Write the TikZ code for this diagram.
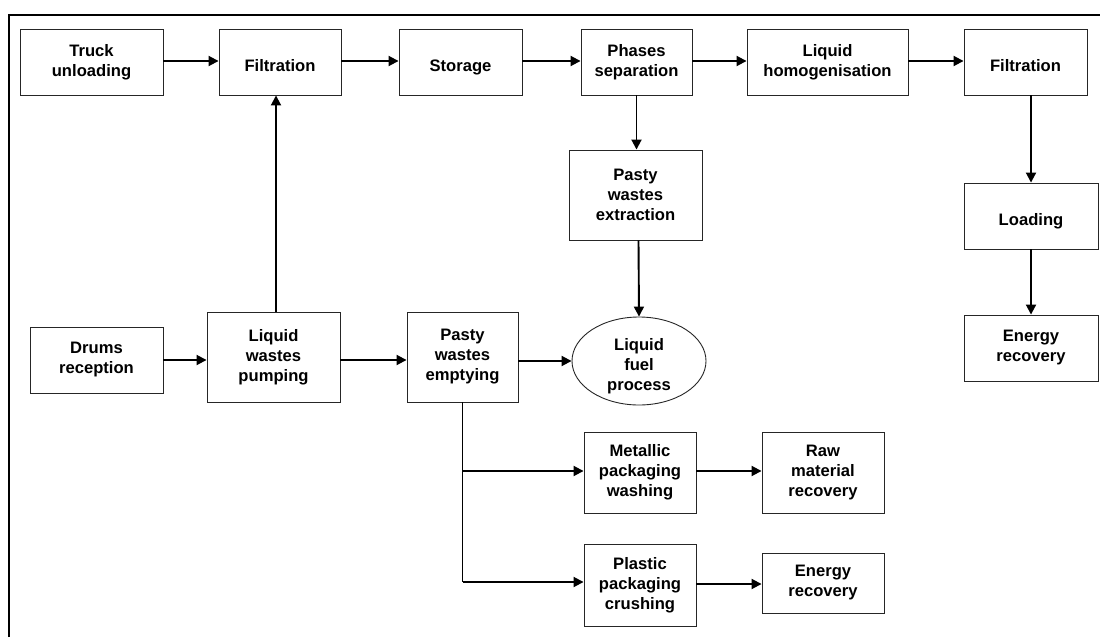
\documentclass[tikz,border=0pt]{standalone}
\usepackage{fontspec}
\setmainfont{Liberation Sans}
\usetikzlibrary{arrows.meta,shapes.geometric}
\tikzset{
  stepbox/.style={draw=black!85, line width=0.9pt, fill=white, align=center,
    inner sep=0pt, font=\fontsize{16.6}{20}\selectfont\bfseries},
  flow/.style={line width=1.9pt, -{Triangle[length=10pt,width=10pt]}},
  plainline/.style={line width=1.9pt},
  frameline/.style={line width=2.4pt}
}
\newcommand{\boxat}[6]{%
  \node[stepbox, minimum width=#4pt, minimum height=#5pt] (#1) at (#2,#3) {#6};}
% text set a little below the middle of its shape
\newlength{\lowdrop}
\setlength{\lowdrop}{5pt}
\newsavebox{\lowbox}
\newcommand{\lowtext}[1]{%
  \sbox{\lowbox}{\begin{tabular}{@{}c@{}}#1\end{tabular}}%
  \raisebox{-\lowdrop}[\ht\lowbox][\dp\lowbox]{\usebox{\lowbox}}}
\begin{document}
\begin{tikzpicture}[x=1pt,y=-1pt]
\useasboundingbox (0,0) rectangle (1100,637);
% outer frame (top and left edges)
\draw[frameline] (9,637) -- (9,15) -- (1100,15);

% top row
\boxat{truck}{91.5}{62}{143}{66}{Truck\\unloading}
\boxat{filtA}{280}{62}{122}{66}{\lowtext{Filtration}}
\boxat{store}{460.5}{62}{123}{66}{\lowtext{Storage}}
\boxat{phase}{636.5}{62}{111}{66}{Phases\\separation}
\boxat{homog}{827.5}{62}{161}{66}{Liquid\\homogenisation}
\boxat{filtB}{1025.5}{62}{123}{66}{\lowtext{Filtration}}

% right column
\boxat{load}{1031}{216}{134}{66}{\lowtext{Loading}}
\boxat{enerA}{1031}{348}{134}{66}{Energy\\recovery}

% middle
\boxat{extr}{635.5}{195}{133}{90}{Pasty\\wastes\\extraction}
\boxat{drums}{96.5}{360}{133}{66}{Drums\\reception}
\boxat{pump}{273.5}{357}{133}{90}{Liquid\\wastes\\pumping}
\boxat{empty}{462.5}{357}{111}{90}{Pasty\\wastes\\emptying}
\node[stepbox, ellipse, minimum width=134pt, minimum height=88pt] (fuel) at (639,361)
  {\lowtext{Liquid\\fuel\\process}};

% packaging branches
\boxat{metal}{640}{472.5}{112}{81}{Metallic\\packaging\\washing}
\boxat{raw}{823}{472.5}{122}{81}{Raw\\material\\recovery}
\boxat{plast}{640}{585}{112}{82}{Plastic\\packaging\\crushing}
\boxat{enerB}{823}{583}{122}{60}{Energy\\recovery}

% connectors along the top row
\draw[flow] ([yshift=1pt]truck.east) -- ([yshift=1pt]filtA.west);
\draw[flow] ([yshift=1pt]filtA.east) -- ([yshift=1pt]store.west);
\draw[flow] ([yshift=1pt]store.east) -- ([yshift=1pt]phase.west);
\draw[flow] ([yshift=1pt]phase.east) -- ([yshift=1pt]homog.west);
\draw[flow] ([yshift=1pt]homog.east) -- ([yshift=1pt]filtB.west);

% right column
\draw[flow] (load.north |- filtB.south) -- (load.north);
\draw[flow] (load.south) -- (enerA.north);

% separation and extraction
\draw[flow] (phase.south) -- (phase.south |- extr.north);
\draw[flow] ([xshift=3pt]extr.south) -- (fuel.north);

% drum handling line
\draw[flow] ([xshift=2.5pt]pump.north) -- ([xshift=2.5pt]pump.north |- filtA.south);
\draw[flow] (drums.east) -- (drums.east -| pump.west);
\draw[flow] ([yshift=-3pt]pump.east) -- ([yshift=-3pt]empty.west);
\draw[flow] (fuel.west -| empty.east) -- (fuel.west);

% packaging branches
\draw[plainline] (empty.south) -- ([yshift=3pt]empty.south |- plast.west);
\draw[flow] ([yshift=1.5pt]empty.south |- metal.west) -- ([yshift=1.5pt]metal.west);
\draw[flow] ([yshift=3pt]empty.south |- plast.west) -- ([yshift=3pt]plast.west);
\draw[flow] ([yshift=1.5pt]metal.east) -- ([yshift=1.5pt]raw.west);
\draw[flow] ([yshift=1pt]plast.east) -- ([yshift=1pt]plast.east -| enerB.west);
\end{tikzpicture}
\end{document}
